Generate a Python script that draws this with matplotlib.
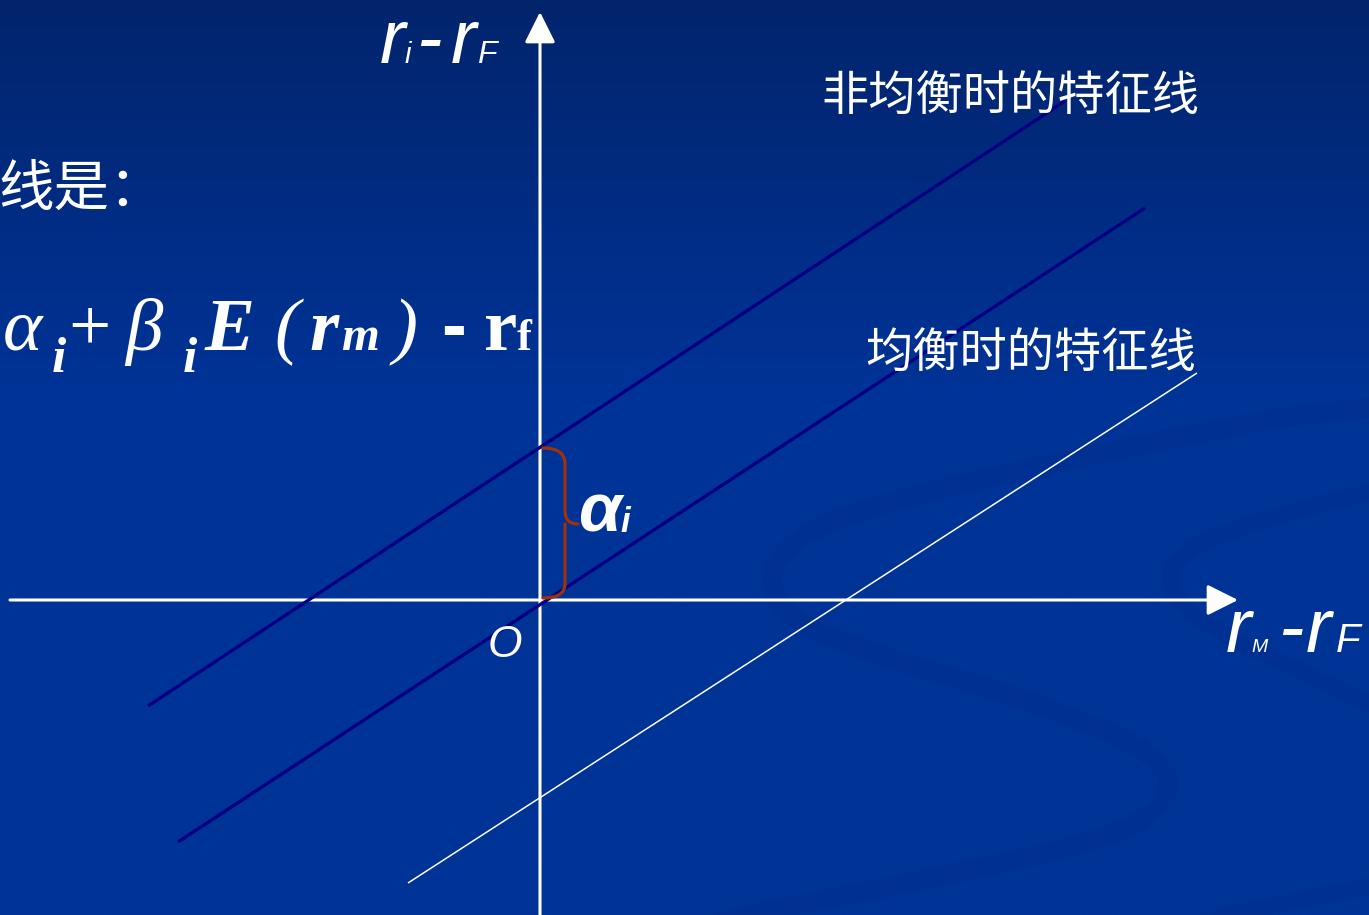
import numpy as np
import matplotlib
matplotlib.use("Agg")
import matplotlib.pyplot as plt
from matplotlib.path import Path
from matplotlib.patches import PathPatch

W, H = 1369, 915

# ---- data (diagram units; origin at the axes crossing) ----
line_names = ["non_equilibrium", "equilibrium", "shifted"]
line_x0 = [-3.92, -3.62, -1.32]
line_y0 = [-1.06, -2.42, -2.83]
line_x1 = [5.25, 6.05, 6.57]
line_y1 = [4.99, 3.92, 2.27]
alpha_i = 1.52          # intercept of the non-equilibrium line
axis_x_range = [-5.30, 6.98]
axis_y_range = [-3.20, 5.88]
label_non_eq = "非均衡时的特征线"
label_eq = "均衡时的特征线"
title_left = "线是："

# ---- figure ----
fig = plt.figure(figsize=(W / 100, H / 100), dpi=100)
ax = fig.add_axes([0, 0, 1, 1])
XL, XR = -5.40, 8.29
YB, YT = -3.15, 6.00
ax.set_xlim(XL, XR)
ax.set_ylim(YB, YT)
ax.axis("off")

# background gradient
top = np.array([2, 36, 108]) / 255
mid = np.array([0, 51, 150]) / 255
rows = np.linspace(0, 1, 400)[:, None]
t = np.clip(rows / 0.42, 0, 1)
grad = (top[None, :] * (1 - t) + mid[None, :] * t)
grad = np.repeat(grad[:, None, :], 2, axis=1)
ax.imshow(grad, extent=[XL, XR, YB, YT], aspect="auto", zorder=0, origin="upper")


def px2d(px, py):
    return ((px - 540) / 100.0, (600 - py) / 100.0)


def smooth_path(pts):
    pts = [px2d(*p) for p in pts]
    verts = [pts[0]]
    codes = [Path.MOVETO]
    for i in range(1, len(pts) - 1):
        mx = (pts[i][0] + pts[i + 1][0]) / 2
        my = (pts[i][1] + pts[i + 1][1]) / 2
        verts += [pts[i], (mx, my)]
        codes += [Path.CURVE3, Path.CURVE3]
    verts.append(pts[-1])
    codes.append(Path.LINETO)
    return Path(verts, codes)


swirl1 = [(1400, 405), (1297, 414), (1212, 431), (1041, 465), (828, 516), (764, 568),
          (785, 619), (871, 653), (1041, 704), (1148, 748), (1178, 789), (1127, 834),
          (956, 874), (743, 915), (700, 930)]
swirl2 = [(1400, 485), (1369, 492), (1212, 533), (1161, 571), (1191, 619),
          (1297, 670), (1369, 704), (1400, 715)]
swirl3 = [(1400, 880), (1300, 900), (1150, 930)]
for sw, lw in [(swirl1, 14), (swirl2, 12), (swirl3, 12)]:
    ax.add_patch(PathPatch(smooth_path(sw), fill=False, lw=lw, edgecolor="#00308e",
                           alpha=0.45, capstyle="round", joinstyle="round", zorder=1))

# axes with arrows
arrow_kw = dict(arrowstyle="-|>,head_length=1.0,head_width=0.5", mutation_scale=19,
                color="white", lw=2.2, shrinkA=0, shrinkB=0)
ax.annotate("", xy=(axis_x_range[1], 0), xytext=(axis_x_range[0], 0),
            arrowprops=arrow_kw, zorder=3)
ax.annotate("", xy=(0, axis_y_range[1]), xytext=(0, axis_y_range[0]),
            arrowprops=arrow_kw, zorder=3)

# characteristic lines
styles = [dict(color="#000080", lw=2.4), dict(color="#000080", lw=2.4),
          dict(color="white", lw=1.1)]
for x0, y0, x1, y1, st in zip(line_x0, line_y0, line_x1, line_y1, styles):
    ax.plot([x0, x1], [y0, y1], solid_capstyle="butt", zorder=4, **st)

# brace for alpha
bx = 0.25
tipx = 0.38
b = alpha_i
verts = [(0.03, b), (bx, b), (bx, b - 0.16), (bx, b - 0.16), (bx, b / 2 + 0.13),
         (bx, b / 2), (tipx, b / 2),
         (bx, b / 2), (bx, b / 2 - 0.13), (bx, b / 2 - 0.13), (bx, 0.16),
         (bx, 0.02), (0.03, 0.02)]
codes = [Path.MOVETO, Path.CURVE3, Path.CURVE3, Path.LINETO, Path.LINETO,
         Path.CURVE3, Path.CURVE3,
         Path.MOVETO, Path.CURVE3, Path.CURVE3, Path.LINETO,
         Path.CURVE3, Path.CURVE3]
ax.add_patch(PathPatch(Path(verts, codes), fill=False, edgecolor="#a0320a", lw=2.3,
                       capstyle="round", joinstyle="round", zorder=5))


# ---- text ----
def T(px, py, s, size, **kw):
    kw.setdefault("color", "white")
    kw.setdefault("va", "baseline")
    kw.setdefault("ha", "left")
    return fig.text(px / W, 1 - py / H, s, fontsize=size, zorder=10, **kw)


sans_it = dict(family="Liberation Sans", style="italic")
# y-axis label r_i - r_F
T(380, 63, "r", 55, **sans_it)
T(405, 63, "i", 21, **sans_it)
T(416, 63, "-", 55, **sans_it)
T(451, 63, "r", 55, **sans_it)
T(477, 63, "F", 23, **sans_it)
# x-axis label r_M - r_F
T(1226, 652, "r", 55, **sans_it)
T(1251, 652, "M", 14, **sans_it)
T(1278, 652, "-", 55, **sans_it)
T(1306, 652, "r", 55, **sans_it)
T(1336, 652, "F", 29, **sans_it)
# origin
T(488, 657, "O", 32, **sans_it)
# alpha_i
T(578, 532, "α", 50, family="Liberation Sans", style="italic", weight="bold")
T(620, 532, "i", 25, family="Liberation Sans", style="italic", weight="bold")

# formula
serif = "Liberation Serif"
T(3, 350, "α", 54, family=serif, style="italic")
T(52, 372, "i", 37, family=serif, style="italic", weight="bold")
T(68, 350, "+", 54, family=serif)
T(125, 350, "β", 54, family=serif, style="italic")
T(183, 372, "i", 37, family=serif, style="italic", weight="bold")
T(205, 350, "E", 54, family=serif, style="italic", weight="bold")
T(274, 350, "(", 54, family=serif, style="italic")
T(309, 350, "r", 54, family=serif, style="italic", weight="bold")
T(341, 350, "m", 35, family=serif, style="italic", weight="bold")
T(393, 350, ")", 54, family=serif, style="italic")
T(441, 350, "-", 54, family="Liberation Sans", weight="bold")
T(484, 350, "r", 54, family=serif, weight="bold")
T(517, 350, "f", 32, family=serif, weight="bold")

cjk = ["Noto Sans CJK SC", "DejaVu Sans"]
T(1010, 97, label_non_eq, 34, family=cjk, ha="center", va="center")
T(1031, 354, label_eq, 34, family=cjk, ha="center", va="center")
T(-2, 190, title_left, 40, family=cjk, va="center")

fig.savefig("out.png", dpi=100)
